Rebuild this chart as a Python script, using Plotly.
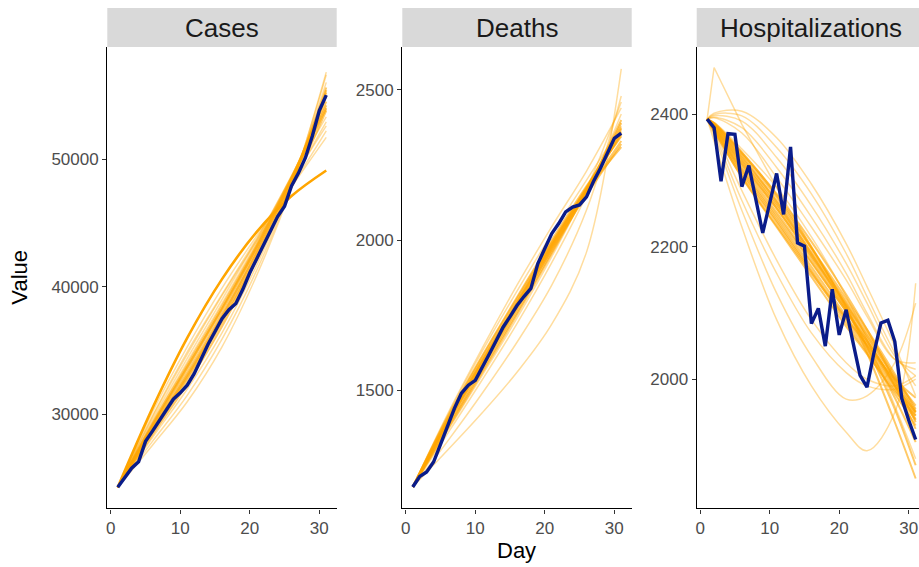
import plotly.graph_objects as go

# ---------------- data ----------------
DAYS = list(range(1, 32))

CASES_OBS = [24300, 25100, 25800, 26300, 27900, 28700, 29500, 30400, 31200, 31700,
             32300, 33200, 34400, 35500, 36500, 37500, 38200, 38700, 39800, 41100,
             42200, 43300, 44400, 45500, 46300, 47900, 48900, 50100, 51800, 53800, 55000]

DEATHS_OBS = [1178, 1213, 1228, 1261, 1320, 1382, 1440, 1490, 1517, 1533,
              1575, 1620, 1665, 1710, 1745, 1782, 1812, 1839, 1922, 1975,
              2022, 2055, 2094, 2110, 2117, 2144, 2195, 2239, 2290, 2339, 2356]

HOSP_OBS = [2393, 2380, 2299, 2371, 2370, 2291, 2323, 2270, 2221, 2266,
            2311, 2249, 2351, 2206, 2201, 2084, 2107, 2050, 2136, 2067,
            2105, 2055, 2006, 1988, 2040, 2085, 2089, 2057, 1971, 1938, 1909]

SIM_DAYS = [1, 6, 11, 16, 21, 26, 31]
HOSP_SIM_DAYS = [1, 2, 6, 11, 16, 21, 24, 28, 31]

# simulated curves close to the observed series (dense band)
CASES_CORE = [
    [24300, 29000, 33300, 37900, 42900, 48400, 54500],
    [24300, 29300, 33900, 38500, 43300, 48600, 54200],
    [24300, 28700, 32900, 37400, 42300, 47800, 53800],
    [24300, 28400, 32400, 36900, 42100, 48000, 55400],
    [24300, 29100, 33600, 38200, 43100, 48500, 54900],
    [24300, 28600, 32700, 37200, 42300, 48000, 55000],
    [24300, 28900, 33100, 37700, 42600, 48200, 55600],
    [24300, 28800, 33000, 37600, 42700, 48400, 55200],
    [24300, 29200, 33700, 38300, 43200, 48500, 54000],
]
# simulated curves further away (light lines)
CASES_OUTER = [
    [24300, 29600, 34400, 39000, 43700, 48600, 53300],
    [24300, 29900, 34900, 39400, 43800, 48300, 52600],
    [24300, 28200, 32000, 36400, 41700, 48000, 56000],
    [24300, 27900, 31500, 35900, 41300, 47900, 56600],
    [24300, 29400, 34100, 38700, 43500, 48700, 53900],
    [24300, 27600, 31000, 35300, 40900, 47800, 56800],
    [24300, 29800, 34700, 39300, 43600, 47800, 51700],
    [24300, 29200, 33800, 38300, 43000, 48100, 52900],
    [24300, 30200, 35300, 39900, 44000, 47900, 52200],
]
CASES_BOLD = [
    [24300, 30500, 36000, 40600, 44300, 47100, 49100],
]

DEATHS_CORE = [
    [1178, 1390, 1585, 1780, 1975, 2165, 2355],
    [1178, 1400, 1600, 1795, 1990, 2175, 2350],
    [1178, 1380, 1575, 1770, 1970, 2165, 2370],
    [1178, 1395, 1595, 1790, 1980, 2160, 2330],
    [1178, 1375, 1565, 1760, 1960, 2165, 2390],
    [1178, 1410, 1615, 1810, 2000, 2180, 2345],
    [1178, 1388, 1582, 1775, 1968, 2150, 2320],
    [1178, 1370, 1558, 1752, 1955, 2165, 2400],
    [1178, 1405, 1610, 1805, 1992, 2165, 2310],
    [1178, 1392, 1590, 1785, 1982, 2175, 2375],
    [1178, 1398, 1598, 1792, 1985, 2170, 2362],
]
DEATHS_OUTER = [
    [1178, 1300, 1425, 1560, 1720, 1960, 2570],
    [1178, 1330, 1490, 1660, 1850, 2100, 2480],
    [1178, 1365, 1550, 1740, 1945, 2170, 2460],
    [1178, 1420, 1640, 1850, 2045, 2230, 2440],
    [1178, 1355, 1535, 1722, 1925, 2150, 2420],
    [1178, 1415, 1630, 1830, 2020, 2200, 2380],
]

HOSP_CORE = [
    [2393, 2381, 2322, 2252, 2178, 2102, 2055, 1990, 1940],
    [2393, 2385, 2335, 2270, 2198, 2122, 2075, 2008, 1955],
    [2393, 2377, 2310, 2237, 2162, 2085, 2040, 1978, 1930],
    [2393, 2387, 2342, 2280, 2208, 2128, 2075, 1998, 1935],
    [2393, 2375, 2305, 2230, 2155, 2080, 2038, 1982, 1945],
    [2393, 2383, 2330, 2262, 2188, 2112, 2062, 1990, 1925],
    [2393, 2379, 2316, 2244, 2170, 2095, 2050, 1990, 1950],
    [2393, 2386, 2340, 2275, 2198, 2110, 2048, 1955, 1870],
    [2393, 2381, 2325, 2258, 2186, 2112, 2066, 2002, 1960],
    [2393, 2376, 2306, 2232, 2160, 2092, 2052, 2000, 1972],
    [2393, 2387, 2343, 2278, 2200, 2108, 2040, 1935, 1850],
    [2393, 2380, 2318, 2248, 2176, 2103, 2058, 1996, 1950],
    [2393, 2384, 2332, 2265, 2192, 2117, 2070, 2004, 1952],
    [2393, 2378, 2313, 2240, 2165, 2090, 2045, 1985, 1938],
    [2393, 2385, 2337, 2268, 2190, 2105, 2050, 1972, 1905],
    [2393, 2382, 2327, 2258, 2183, 2106, 2058, 1993, 1945],
]
HOSP_OUTER = [
    [2393, 2402, 2405, 2365, 2295, 2205, 2140, 2050, 1975],
    [2393, 2400, 2398, 2350, 2280, 2190, 2125, 2040, 1990],
    [2393, 2398, 2390, 2335, 2262, 2175, 2115, 2035, 2005],
    [2393, 2396, 2380, 2320, 2245, 2160, 2100, 2030, 2015],
    [2393, 2395, 2372, 2305, 2230, 2150, 2095, 2030, 2025],
    [2393, 2360, 2230, 2090, 1990, 1920, 1892, 1950, 2145],
    [2393, 2368, 2255, 2130, 2035, 1970, 1975, 2025, 2115],
    [2393, 2372, 2270, 2160, 2070, 2010, 1990, 1985, 2000],
    [2393, 2375, 2285, 2180, 2090, 2025, 2000, 1990, 2005],
    [2393, 2388, 2348, 2290, 2215, 2125, 2060, 1960, 1880],
]
HOSP_SPIKE = [
    [2393, 2471, 2385, 2290, 2200, 2115, 2065, 2000, 1950],
]

PANELS = ["Cases", "Deaths", "Hospitalizations"]
X_TICKS = [0, 10, 20, 30]
Y_TICKS = [[30000, 40000, 50000], [1500, 2000, 2500], [2000, 2200, 2400]]

# ---------------- layout geometry (pixels) ----------------
W, H = 919, 567
PANEL_X = [(107.3, 336.7), (402.3, 631.7), (696.7, 926.1)]
PANEL_TOP, PANEL_BOTTOM = 47.0, 508.3
STRIP_TOP = 8.0
X_RANGE = (-0.5, 32.5)
Y_RANGES = [(22660, 58770), (1107, 2643), (1805, 2502)]

ORANGE_LIGHT = "rgba(255,165,0,0.38)"
ORANGE_CORE = "rgba(255,165,0,0.6)"
ORANGE_SOLID = "rgba(255,165,0,1)"
BLUE = "#0A1C8A"
FONT = "Liberation Sans, Arial, sans-serif"


def px(x):
    return x / W


def py(y):
    return 1 - y / H


fig = go.Figure()

panel_data = [
    (SIM_DAYS, CASES_OUTER, CASES_CORE, CASES_BOLD, [], CASES_OBS),
    (SIM_DAYS, DEATHS_OUTER, DEATHS_CORE, [], [], DEATHS_OBS),
    (HOSP_SIM_DAYS, HOSP_OUTER, HOSP_CORE, [], HOSP_SPIKE, HOSP_OBS),
]


def add_lines(curves, sdays, xa, ya, color, width, shape):
    for curve in curves:
        fig.add_trace(go.Scatter(x=sdays, y=curve, mode="lines",
                                 line=dict(color=color, width=width, shape=shape),
                                 xaxis=xa, yaxis=ya, hoverinfo="skip", showlegend=False))


for i, (sdays, outer, core, bold, spike, obs) in enumerate(panel_data):
    xa = "x" if i == 0 else f"x{i+1}"
    ya = "y" if i == 0 else f"y{i+1}"
    add_lines(outer, sdays, xa, ya, ORANGE_LIGHT, 1.5, "spline")
    add_lines(spike, sdays, xa, ya, ORANGE_LIGHT, 1.5, "linear")
    add_lines(core, sdays, xa, ya, ORANGE_CORE, 2.0, "spline")
    add_lines(bold, sdays, xa, ya, ORANGE_SOLID, 2.6, "spline")
    fig.add_trace(go.Scatter(x=DAYS, y=obs, mode="lines",
                             line=dict(color=BLUE, width=3.4),
                             xaxis=xa, yaxis=ya, hoverinfo="skip", showlegend=False))

layout = dict(
    width=W, height=H,
    margin=dict(l=0, r=0, t=0, b=0),
    paper_bgcolor="white", plot_bgcolor="white",
    showlegend=False,
    font=dict(family=FONT),
)

shapes = []
annotations = []
for i in range(3):
    x0, x1 = PANEL_X[i]
    sfx = "" if i == 0 else str(i + 1)
    dom_x1 = min(x1, W)
    xr1 = X_RANGE[0] + (X_RANGE[1] - X_RANGE[0]) * (dom_x1 - x0) / (x1 - x0)
    axis_common = dict(
        showline=True, linecolor="black", linewidth=1.4,
        ticks="outside", ticklen=4, tickwidth=1.1, tickcolor="#333333",
        showgrid=False, zeroline=False,
        tickfont=dict(family=FONT, size=17, color="#4D4D4D"),
    )
    layout["xaxis" + sfx] = dict(
        domain=[px(x0), px(dom_x1)], range=[X_RANGE[0], xr1],
        anchor="y" + sfx, tickvals=X_TICKS, ticktext=[str(t) for t in X_TICKS],
        **axis_common,
    )
    layout["yaxis" + sfx] = dict(
        domain=[py(PANEL_BOTTOM), py(PANEL_TOP)], range=list(Y_RANGES[i]),
        anchor="x" + sfx, tickvals=Y_TICKS[i], ticktext=[str(t) for t in Y_TICKS[i]],
        **axis_common,
    )
    shapes.append(dict(type="rect", xref="paper", yref="paper",
                       x0=px(x0), x1=px(min(x1, W)), y0=py(PANEL_TOP), y1=py(STRIP_TOP),
                       fillcolor="#D9D9D9", line=dict(width=0), layer="below"))
    annotations.append(dict(text=PANELS[i], xref="paper", yref="paper",
                            x=px((x0 + x1) / 2), y=py((STRIP_TOP + PANEL_TOP) / 2 + 1),
                            xanchor="center", yanchor="middle", showarrow=False,
                            font=dict(family=FONT, size=26, color="#1A1A1A")))

annotations.append(dict(text="Value", xref="paper", yref="paper",
                        x=px(20), y=py((PANEL_TOP + PANEL_BOTTOM) / 2),
                        xanchor="center", yanchor="middle", textangle=-90, showarrow=False,
                        font=dict(family=FONT, size=22, color="black")))
annotations.append(dict(text="Day", xref="paper", yref="paper",
                        x=px((PANEL_X[0][0] + PANEL_X[2][1]) / 2), y=py(550),
                        xanchor="center", yanchor="middle", showarrow=False,
                        font=dict(family=FONT, size=22, color="black")))

layout["shapes"] = shapes
layout["annotations"] = annotations
fig.update_layout(**layout)

fig.write_html("out.html")
